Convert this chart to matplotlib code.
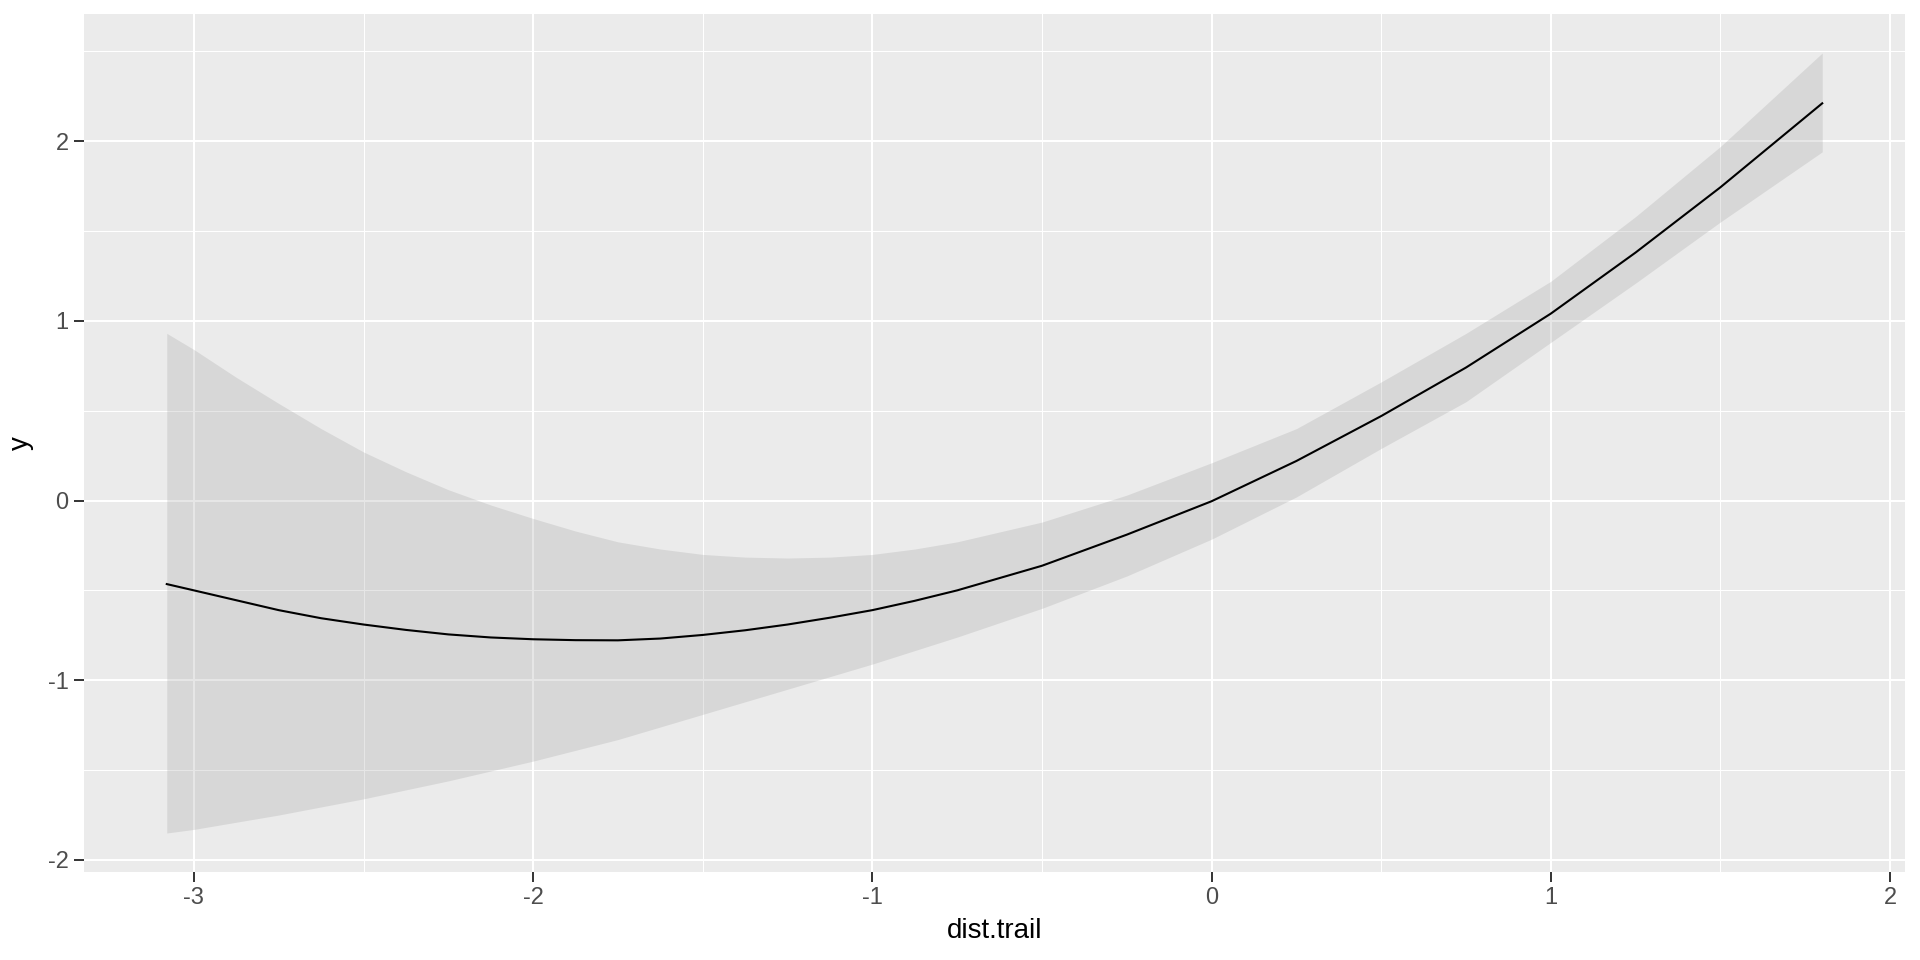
import numpy as np
import matplotlib
matplotlib.use("Agg")
import matplotlib.pyplot as plt
from matplotlib.ticker import MultipleLocator

plt.rcParams['font.family'] = ['Liberation Sans', 'DejaVu Sans']

# smooth fit
dist_trail = [-3.08, -3.0, -2.875, -2.75, -2.625, -2.5, -2.375, -2.25, -2.125, -2.0,
              -1.875, -1.75, -1.625, -1.5, -1.375, -1.25, -1.125, -1.0, -0.875, -0.75,
              -0.5, -0.25, 0.0, 0.25, 0.5, 0.75, 1.0, 1.25, 1.5, 1.8]
fit = [-0.465, -0.50, -0.555, -0.61, -0.655, -0.69, -0.72, -0.745, -0.762, -0.772,
       -0.777, -0.778, -0.768, -0.748, -0.722, -0.69, -0.652, -0.61, -0.558, -0.50,
       -0.363, -0.19, -0.004, 0.22, 0.47, 0.74, 1.04, 1.38, 1.743, 2.21]
upper = [0.93, 0.84, 0.685, 0.54, 0.40, 0.27, 0.16, 0.06, -0.025, -0.10,
         -0.17, -0.23, -0.27, -0.30, -0.315, -0.32, -0.315, -0.30, -0.27, -0.23,
         -0.12, 0.03, 0.21, 0.40, 0.66, 0.93, 1.22, 1.58, 1.97, 2.49]
lower = [-1.85, -1.83, -1.79, -1.75, -1.705, -1.66, -1.61, -1.56, -1.505, -1.45,
         -1.39, -1.33, -1.26, -1.19, -1.12, -1.05, -0.98, -0.91, -0.835, -0.76,
         -0.60, -0.42, -0.215, 0.02, 0.29, 0.55, 0.88, 1.21, 1.55, 1.94]

fig = plt.figure(figsize=(19.2, 9.6), dpi=100)
ax = fig.add_axes([84 / 1920, 1 - 872 / 960, (1905 - 84) / 1920, (872 - 14) / 960])
ax.set_facecolor('#EBEBEB')

ax.fill_between(dist_trail, lower, upper, color='#999999', alpha=0.24, linewidth=0, zorder=2)
ax.plot(dist_trail, fit, color='black', lw=1.5, zorder=3)

# ggplot-like 5% expansion
xr = max(dist_trail) - min(dist_trail)
yr = max(upper) - min(lower)
ax.set_xlim(min(dist_trail) - 0.05 * xr, max(dist_trail) + 0.05 * xr)
ax.set_ylim(min(lower) - 0.05 * yr, max(upper) + 0.05 * yr)

ax.xaxis.set_major_locator(MultipleLocator(1))
ax.yaxis.set_major_locator(MultipleLocator(1))
ax.xaxis.set_minor_locator(MultipleLocator(0.5))
ax.yaxis.set_minor_locator(MultipleLocator(0.5))
ax.grid(which='major', color='white', lw=1.5, zorder=1)
ax.grid(which='minor', color='white', lw=0.75, zorder=1)
ax.set_axisbelow(True)
for s in ax.spines.values():
    s.set_visible(False)

ax.tick_params(which='major', length=7, width=1.4, color='#333333',
               labelsize=17, labelcolor='#4D4D4D', pad=4)
ax.tick_params(which='minor', length=0)
ax.xaxis.set_major_formatter(plt.FuncFormatter(lambda v, p: '%d' % v))
ax.yaxis.set_major_formatter(plt.FuncFormatter(lambda v, p: '%d' % v))

ax.set_xlabel('dist.trail', fontsize=20, color='black', labelpad=6)
ax.set_ylabel('y', fontsize=20, color='black', labelpad=10)

fig.savefig('out.png', dpi=100, facecolor='white')
